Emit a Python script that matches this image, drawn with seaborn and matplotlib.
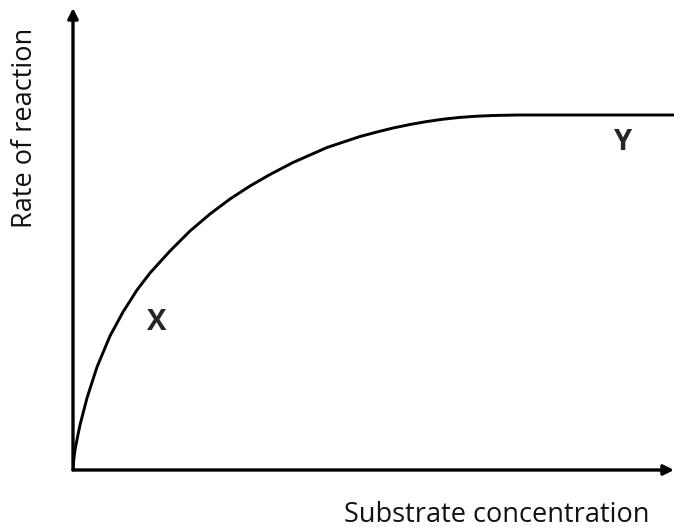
import numpy as np
import pandas as pd
import matplotlib
matplotlib.use("Agg")
import matplotlib.pyplot as plt
import seaborn as sns

# Values (arbitrary units)
substrate_conc = [0.000, 0.005, 0.020, 0.045, 0.070, 0.140, 0.240, 0.370,
                  0.500, 0.640, 0.770, 0.970, 1.170, 1.370, 1.570, 1.770,
                  1.970, 2.200, 2.540, 2.870, 3.040, 3.200, 3.370, 3.540,
                  3.700, 3.870, 4.040, 4.200, 4.450, 4.670, 6.010]
reaction_rate = [0.000, 0.080, 0.200, 0.330, 0.450, 0.720, 1.030, 1.340,
                 1.580, 1.800, 1.970, 2.190, 2.390, 2.560, 2.710, 2.840,
                 2.955, 3.075, 3.225, 3.335, 3.380, 3.420, 3.455, 3.485,
                 3.508, 3.526, 3.538, 3.545, 3.550, 3.550, 3.550]

point_labels = ["X", "Y"]
label_x = [0.84, 5.49]
label_y = [1.47, 3.28]

x_title = "Substrate concentration"
y_title = "Rate of reaction"

df = pd.DataFrame({"conc": substrate_conc, "rate": reaction_rate})

sns.set_style("white")
plt.rcParams["font.family"] = ["Open Sans", "DejaVu Sans"]

W, H = 674, 528
fig = plt.figure(figsize=(W / 100, H / 100), dpi=100)
ax = fig.add_axes([73 / W, 58 / H, 601 / W, 462 / H])

sns.lineplot(data=df, x="conc", y="rate", color="black", linewidth=2.1,
             ax=ax, sort=False)
ax.lines[0].set_solid_joinstyle("round")

ax.set_xlim(0, 6.01)
ax.set_ylim(0, 4.62)
for s in ax.spines.values():
    s.set_visible(False)
ax.set_xticks([])
ax.set_yticks([])
ax.set_xlabel("")
ax.set_ylabel("")

# axis arrows
arrow = dict(arrowstyle="-|>,head_length=0.6,head_width=0.3", color="black",
             lw=2.4, shrinkA=0, shrinkB=0)
ax.annotate("", xy=(0, 1), xytext=(0, 0), xycoords="axes fraction",
            arrowprops=arrow, annotation_clip=False)
ax.annotate("", xy=(1, 0), xytext=(0, 0), xycoords="axes fraction",
            arrowprops=arrow, annotation_clip=False)

for lab, lx, ly in zip(point_labels, label_x, label_y):
    ax.text(lx, ly, lab, fontsize=21, fontweight="bold", ha="center",
            va="center")

fig.text(497 / W, (H - 515) / H, x_title, fontsize=19.5, ha="center",
         va="center", color="#111111")
fig.text(25 / W, (H - 128) / H, y_title, fontsize=19.5, rotation=90,
         ha="center", va="center", color="#111111")

fig.savefig("out.png", dpi=100)
